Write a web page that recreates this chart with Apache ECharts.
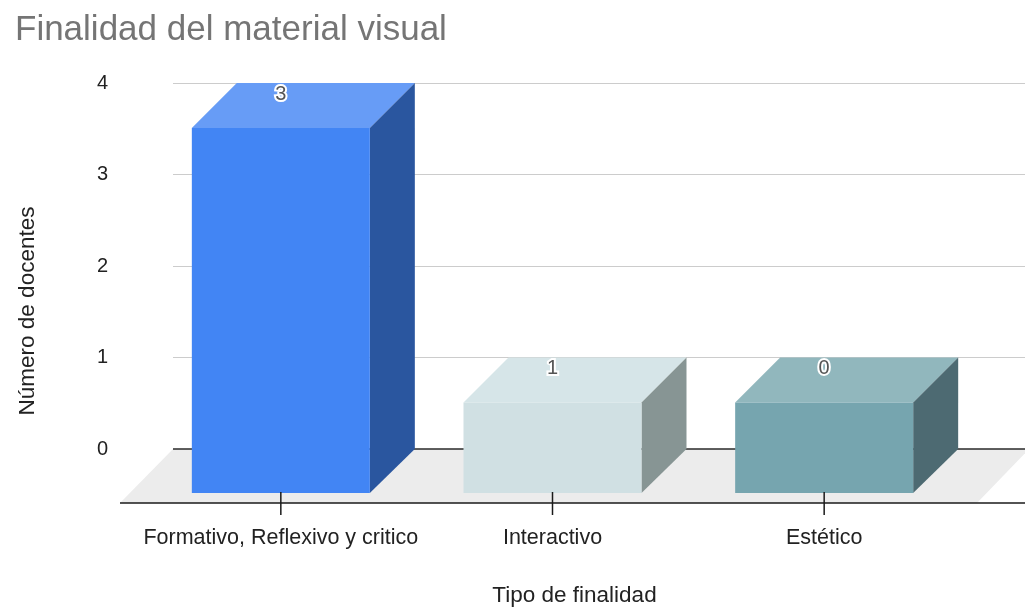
<!DOCTYPE html>
<html>
<head>
<meta charset="utf-8">
<style>html,body{margin:0;padding:0;background:#fff}#c{width:1025px;height:608px}</style>
<script src="https://cdn.jsdelivr.net/npm/echarts@6/dist/echarts.min.js"></script>
</head>
<body>
<div id="c"></div>
<script>
const categories = ["Formativo, Reflexivo y critico", "Interactivo", "Estético"];
const barHeights = [4, 1, 1];
const dataLabels = ["3", "1", "0"];
const yTicks = [0, 1, 2, 3, 4];

const faceColors = [
  { front: "#4285f4", top: "#679cf6", side: "#2a569f" },
  { front: "#d0e0e3", top: "#d6e5e8", side: "#879594" },
  { front: "#76a5af", top: "#91b7bd", side: "#4d6a72" }
];
const DX = 45, DY = 45, BASE_DY = 44, HALF = 89, AXIS_DY = 54;
const FONT = "'Liberation Sans', Arial, sans-serif";

const chart = echarts.init(document.getElementById("c"), null, { renderer: "canvas" });

function renderFloor(params, api) {
  const cs = params.coordSys;
  const y0 = api.coord([0, 0])[1];
  const left = cs.x, right = cs.x + cs.width;
  return {
    type: "group",
    children: [
      { type: "polygon", shape: { points: [[left, y0], [right + 4, y0], [right - 48, y0 + AXIS_DY], [left - 53, y0 + AXIS_DY]] }, style: { fill: "#ececec" } },
      { type: "line", shape: { x1: left, y1: y0, x2: right, y2: y0 }, style: { stroke: "#2a2a2a", lineWidth: 1.5 } },
      { type: "line", shape: { x1: left - 53, y1: y0 + AXIS_DY, x2: right, y2: y0 + AXIS_DY }, style: { stroke: "#1a1a1a", lineWidth: 1.5 } }
    ]
  };
}

function renderBar(params, api) {
  const i = api.value(0);
  const v = api.value(1);
  const c = faceColors[i];
  const top = api.coord([i, v]);
  const base = api.coord([i, 0]);
  const cx = top[0];
  const l = cx - HALF, r = cx + HALF;
  const yt = top[1] + DY, yb = base[1] + BASE_DY;
  return {
    type: "group",
    children: [
      { type: "polygon", shape: { points: [[l, yt], [r, yt], [r + DX, top[1]], [l + DX, top[1]]] }, style: { fill: c.top } },
      { type: "polygon", shape: { points: [[r, yt], [r + DX, top[1]], [r + DX, base[1]], [r, yb]] }, style: { fill: c.side } },
      { type: "rect", shape: { x: l, y: yt, width: r - l, height: yb - yt }, style: { fill: c.front } },
      { type: "line", shape: { x1: cx, y1: yb - 1, x2: cx, y2: base[1] + AXIS_DY + 12 }, style: { stroke: "#1a1a1a", lineWidth: 1.5 } },
      { type: "text", x: cx, y: top[1] + 11, style: { text: dataLabels[i], fill: "#555555", stroke: "#ffffff", lineWidth: 4, font: "20px " + FONT, align: "center", verticalAlign: "middle" } }
    ]
  };
}

chart.setOption({
  animation: false,
  backgroundColor: "#ffffff",
  title: {
    text: "Finalidad del material visual", left: 10, top: 8,
    textStyle: { color: "#757575", fontSize: 35, fontWeight: "normal", fontFamily: FONT }
  },
  grid: [
    { left: 173, top: 83, width: 852, height: 366, outerBoundsMode: "none" },
    { left: 145, top: 83, width: 815, height: 366, outerBoundsMode: "none" }
  ],
  xAxis: [
    { gridIndex: 0, type: "category", data: categories, show: false },
    {
      gridIndex: 1, type: "category", data: categories, position: "bottom", offset: 54,
      axisLine: { show: false },
      axisTick: { show: false },
      axisLabel: { color: "#222222", fontSize: 21.5, margin: 24, fontFamily: FONT, interval: 0 },
      name: "Tipo de finalidad", nameLocation: "middle", nameGap: 81,
      nameTextStyle: { color: "#222222", fontSize: 22.5, fontFamily: FONT, padding: [0, 0, 0, 44] }
    }
  ],
  yAxis: [
    {
      gridIndex: 0, type: "value", min: 0, max: 4, interval: 1,
      axisLine: { show: false }, axisTick: { show: false },
      splitLine: { lineStyle: { color: "#cccccc", width: 1 } },
      axisLabel: { color: "#222222", fontSize: 20, margin: 65, fontFamily: FONT,
        formatter: v => String(yTicks[v]) },
      name: "Número de docentes", nameLocation: "middle", nameGap: 134, nameRotate: 90,
      nameTextStyle: { color: "#222222", fontSize: 22.5, fontFamily: FONT, padding: [0, 90, 0, 0] }
    },
    { gridIndex: 1, type: "value", min: 0, max: 4, interval: 1, show: false }
  ],
  series: [
    { type: "custom", coordinateSystem: "cartesian2d", xAxisIndex: 0, yAxisIndex: 0, clip: false, z: 1, data: [[0, 0]], renderItem: renderFloor, silent: true },
    { type: "custom", coordinateSystem: "cartesian2d", xAxisIndex: 1, yAxisIndex: 1, clip: false, z: 3, data: barHeights.map((v, i) => [i, v]), encode: { x: 0, y: 1 }, renderItem: renderBar }
  ]
});
</script>
</body>
</html>
